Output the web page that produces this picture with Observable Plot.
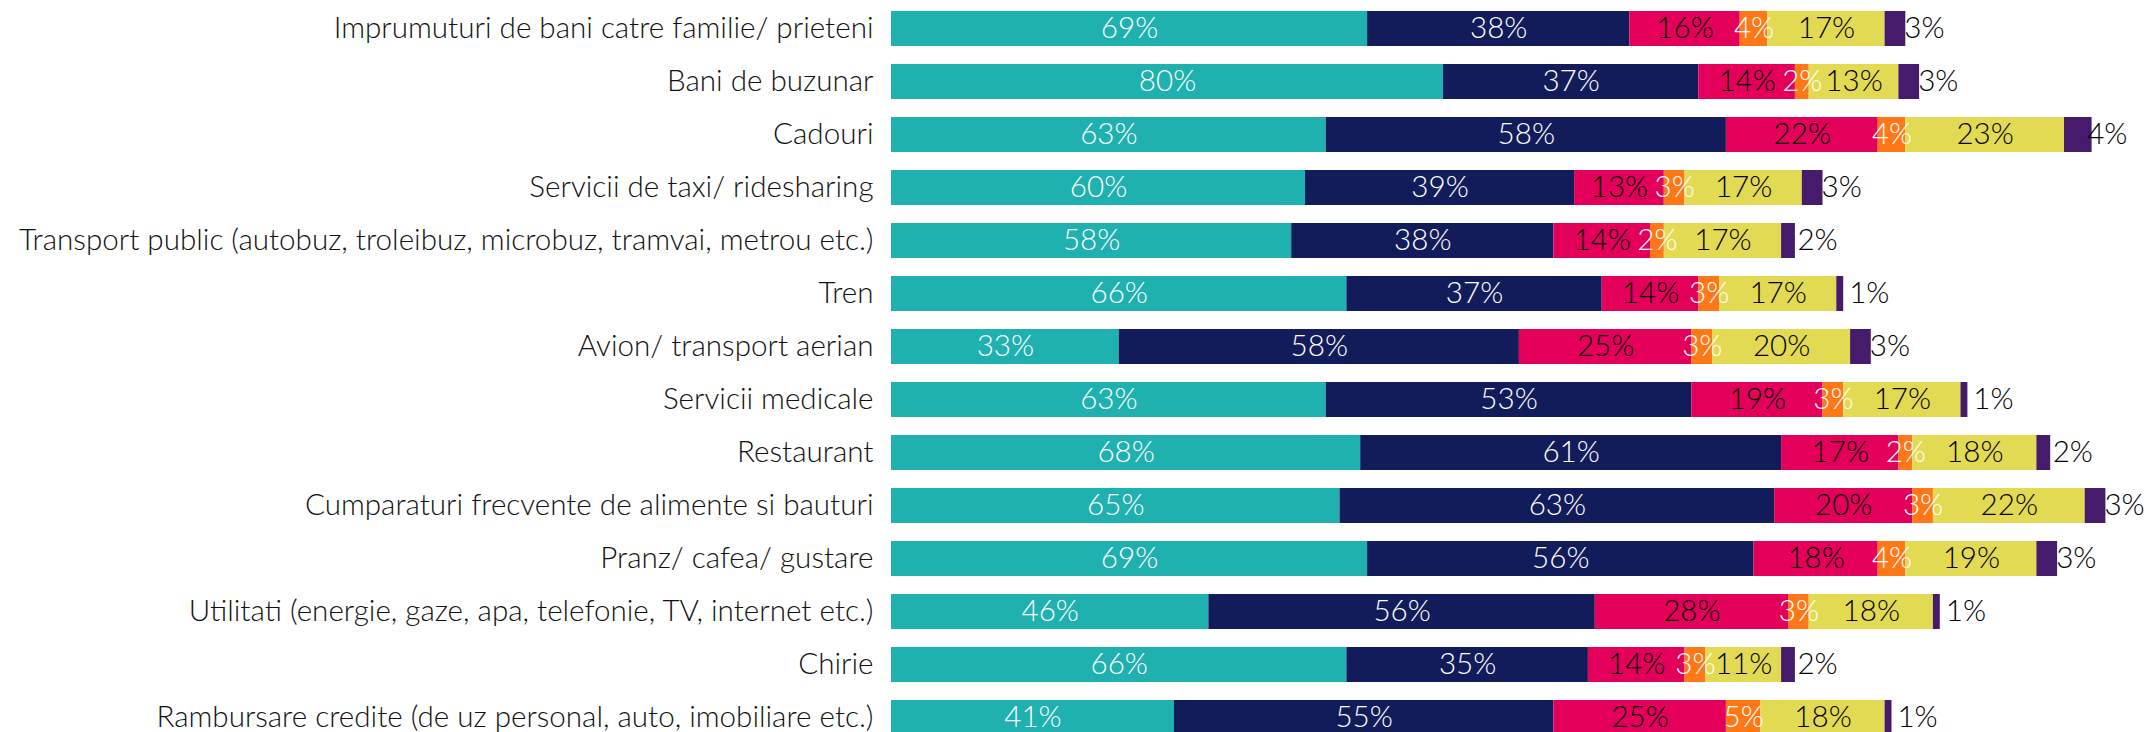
<!DOCTYPE html>
<html><head><meta charset="utf-8">
<script src="https://cdn.jsdelivr.net/npm/d3@7"></script>
<script src="https://cdn.jsdelivr.net/npm/@observablehq/plot@0.6"></script>
<style>body{margin:0;background:#fff}</style>
</head><body><div id="chart"></div>
<script>
const categories = [
  "Imprumuturi de bani catre familie/ prieteni",
  "Bani de buzunar",
  "Cadouri",
  "Servicii de taxi/ ridesharing",
  "Transport public (autobuz, troleibuz, microbuz, tramvai, metrou etc.)",
  "Tren",
  "Avion/ transport aerian",
  "Servicii medicale",
  "Restaurant",
  "Cumparaturi frecvente de alimente si bauturi",
  "Pranz/ cafea/ gustare",
  "Utilitati (energie, gaze, apa, telefonie, TV, internet etc.)",
  "Chirie",
  "Rambursare credite (de uz personal, auto, imobiliare etc.)"
];
const seriesNames = ["s1","s2","s3","s4","s5","s6"];
const s1 = [69,80,63,60,58,66,33,63,68,65,69,46,66,41];
const s2 = [38,37,58,39,38,37,58,53,61,63,56,56,35,55];
const s3 = [16,14,22,13,14,14,25,19,17,20,18,28,14,25];
const s4 = [4,2,4,3,2,3,3,3,2,3,4,3,3,5];
const s5 = [17,13,23,17,17,17,20,17,18,22,19,18,11,18];
const s6 = [3,3,4,3,2,1,3,1,2,3,3,1,2,1];
const colors = ["#1fb0b0","#131c5a","#e4005a","#ff7716","#e2da52","#471b6b"];

const all = [s1,s2,s3,s4,s5,s6];
const data = [];
categories.forEach((c,i)=>all.forEach((s,j)=>data.push({category:c, series:seriesNames[j], value:s[i]})));

const FONT = "Lato";
const FS = 29.6;
const lbl = d => d.value + "%";
const whiteSet = new Set(["s1","s2","s4"]);
const blackSet = new Set(["s3","s5"]);

const chart = Plot.plot({
  width: 2149, height: 732,
  marginLeft: 891, marginRight: 16, marginTop: 0, marginBottom: 0,
  style: {fontFamily: FONT, fontWeight: 300, fontSize: FS + "px", background: "#fff", color: "#111"},
  x: {domain: [0, 180], range: [891, 891 + 180 * 6.9], axis: null},
  y: {domain: categories, range: [11, 735], paddingInner: 0.34, paddingOuter: 0, label: null, tickSize: 0, tickPadding: 18},
  color: {domain: seriesNames, range: colors},
  marks: [
    Plot.barX(data, Plot.stackX({x: "value", y: "category", fill: "series", z: "series"})),
    Plot.text(data, Plot.stackX({x: "value", y: "category", z: "series", text: d => whiteSet.has(d.series) ? lbl(d) : null, fill: "white", fontSize: FS, fontWeight: 300})),
    Plot.text(data, Plot.stackX({x: "value", y: "category", z: "series", text: d => blackSet.has(d.series) ? lbl(d) : null, fill: "black", fontSize: FS, fontWeight: 300})),
    Plot.text(data, Plot.stackX({x: "value", y: "category", z: "series", text: d => d.series === "s6" ? lbl(d) : null, fill: "black", fontSize: FS, fontWeight: 300, dx: 29}))
  ]
});
document.getElementById("chart").appendChild(chart);
</script></body></html>
